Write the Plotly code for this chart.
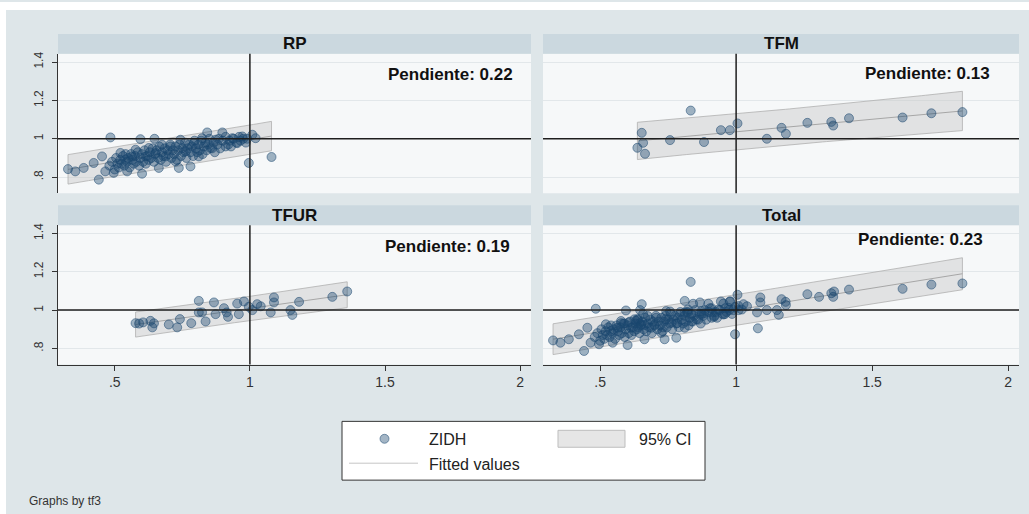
import numpy as np
import plotly.graph_objects as go

W, H = 1029, 514

# ---------------- data ----------------
rp_x = [0.327, 0.354, 0.385, 0.422, 0.441, 0.484, 0.453, 0.465, 0.496, 0.521, 0.540, 0.546,
        0.564, 0.577, 0.595, 0.601, 0.614, 0.626, 0.647, 0.651, 0.663, 0.675, 0.688, 0.706,
        0.725, 0.737, 0.743, 0.762, 0.780, 0.793, 0.811, 0.823, 0.842, 0.854, 0.873, 0.898,
        0.910, 0.935, 0.953, 0.972, 0.996, 1.009, 1.021, 1.080,
        0.480, 0.490, 0.500, 0.505, 0.510, 0.515, 0.520, 0.525, 0.530, 0.535, 0.540, 0.545, 0.550,
        0.555, 0.560, 0.565, 0.570, 0.575, 0.580, 0.585, 0.590, 0.595, 0.600, 0.605, 0.610,
        0.615, 0.620, 0.625, 0.630, 0.635, 0.640, 0.645, 0.650,
        0.655, 0.660, 0.665, 0.670, 0.675, 0.680, 0.685, 0.690, 0.695, 0.700, 0.705, 0.710,
        0.715, 0.720, 0.725, 0.730, 0.735, 0.740, 0.745, 0.750,
        0.755, 0.760, 0.765, 0.770, 0.775, 0.780, 0.785, 0.790, 0.795, 0.800, 0.805, 0.810,
        0.815, 0.820, 0.825, 0.830, 0.835, 0.840, 0.845, 0.850,
        0.860, 0.865, 0.870, 0.880, 0.885, 0.890, 0.900, 0.910, 0.920, 0.925, 0.930, 0.940,
        0.950, 0.960, 0.965, 0.975, 0.985, 0.990]
rp_y = [0.842, 0.830, 0.848, 0.874, 0.787, 1.007, 0.908, 0.830, 0.822, 0.926, 0.891, 0.830,
        0.908, 0.943, 0.998, 0.818, 0.908, 0.952, 1.000, 0.926, 0.848, 0.969, 0.908, 0.960,
        0.882, 0.848, 0.995, 0.934, 0.856, 0.977, 0.908, 1.003, 1.033, 0.952, 0.995, 1.033,
        0.960, 1.003, 0.977, 1.012, 0.874, 1.021, 1.003, 0.905,
        0.860, 0.880, 0.840, 0.900, 0.870, 0.850, 0.890, 0.870, 0.910, 0.860, 0.920, 0.880, 0.900,
        0.850, 0.920, 0.890, 0.870, 0.910, 0.880, 0.930, 0.860, 0.900, 0.920, 0.880, 0.940,
        0.870, 0.910, 0.890, 0.930, 0.900, 0.950, 0.880, 0.920,
        0.940, 0.900, 0.960, 0.890, 0.930, 0.910, 0.950, 0.880, 0.940, 0.920, 0.970, 0.900,
        0.940, 0.920, 0.960, 0.890, 0.940, 0.970, 0.910, 0.950,
        0.930, 0.980, 0.900, 0.950, 0.970, 0.930, 0.960, 0.910, 0.990, 0.950, 0.930, 0.970,
        0.940, 0.990, 0.920, 0.960, 0.980, 0.940, 0.970, 1.000,
        0.950, 0.980, 0.930, 0.970, 1.000, 0.950, 0.990, 1.010, 0.970, 0.990, 0.960, 1.000,
        0.980, 1.010, 0.990, 1.000, 0.980, 1.000]

tfm_x = [0.637, 0.653, 0.658, 0.665, 0.757, 0.833, 0.882, 0.944, 0.977, 1.005,
         1.113, 1.167, 1.183, 1.262, 1.350, 1.357, 1.415, 1.612, 1.718, 1.832]
tfm_y = [0.953, 1.031, 0.979, 0.922, 0.993, 1.147, 0.983, 1.045, 1.045, 1.080,
         1.000, 1.057, 1.026, 1.083, 1.088, 1.069, 1.107, 1.111, 1.133, 1.139]

tfur_x = [0.577, 0.590, 0.605, 0.632, 0.645, 0.639, 0.700, 0.731, 0.741, 0.783, 0.811, 0.811,
          0.823, 0.836, 0.867, 0.873, 0.904, 0.914, 0.919, 0.953, 0.959, 0.978, 0.996, 1.009,
          1.027, 1.040, 1.077, 1.089, 1.089, 1.150, 1.157, 1.182, 1.305, 1.360]
tfur_y = [0.932, 0.930, 0.936, 0.944, 0.931, 0.910, 0.925, 0.910, 0.953, 0.932, 1.048, 0.988,
          0.988, 0.941, 1.040, 0.979, 1.010, 0.988, 0.965, 1.034, 0.979, 1.045, 1.017, 1.000,
          1.031, 1.020, 0.988, 1.066, 1.040, 1.000, 0.975, 1.043, 1.069, 1.097]

panel_names = ["RP", "TFM", "TFUR", "Total"]
slope_labels = ["Pendiente: 0.22", "Pendiente: 0.13", "Pendiente: 0.19", "Pendiente: 0.23"]
x_tickvals = [0.5, 1.0, 1.5, 2.0]
x_ticktext = [".5", "1", "1.5", "2"]
y_tickvals = [0.8, 1.0, 1.2, 1.4]
y_ticktext = [".8", "1", "1.2", "1.4"]
legend_labels = ["ZIDH", "95% CI", "Fitted values"]
footnote = "Graphs by tf3"

panel_data = [
    (rp_x, rp_y),
    (tfm_x, tfm_y),
    (tfur_x, tfur_y),
    (rp_x + tfm_x + tfur_x, rp_y + tfm_y + tfur_y),
]

# ---------------- styling ----------------
FONT = "Liberation Sans, Arial, sans-serif"
OUTER_BG = "#dee6e9"
STRIP_BG = "#cbd8df"
PLOT_BG = "#f6f8f9"
GRID = "#e2e7ea"
AXIS = "#333333"
MARK_FILL = "rgba(26,71,111,0.40)"
MARK_LINE = "rgba(26,71,111,0.52)"
BAND_FILL = "rgba(200,200,200,0.45)"
BAND_LINE = "#b0b0b0"
FIT_LINE = "#a6a6a6"


def t975(df):
    z = 1.959964
    g1 = (z ** 3 + z) / 4
    g2 = (5 * z ** 5 + 16 * z ** 3 + 3 * z) / 96
    g3 = (3 * z ** 7 + 19 * z ** 5 + 17 * z ** 3 - 15 * z) / 384
    return z + g1 / df + g2 / df ** 2 + g3 / df ** 3


def fit_band(x, y, n_grid=80):
    x = np.asarray(x, float)
    y = np.asarray(y, float)
    n = len(x)
    b, a = np.polyfit(x, y, 1)
    resid = y - (a + b * x)
    s = np.sqrt(np.sum(resid ** 2) / (n - 2))
    xbar = x.mean()
    sxx = np.sum((x - xbar) ** 2)
    g = np.linspace(x.min(), x.max(), n_grid)
    yhat = a + b * g
    se = s * np.sqrt(1 + 1 / n + (g - xbar) ** 2 / sxx)
    t = t975(n - 2)
    return g, yhat, yhat - t * se, yhat + t * se


def px(v):
    return v / W


def py(v):
    return 1 - v / H


XL = [px(58), px(531)]
XR = [px(543), px(1019)]
YT = [py(192), py(52)]
YB = [py(364), py(224)]
domains = [(XL, YT), (XR, YT), (XL, YB), (XR, YB)]
XRANGE = [0.29, 2.04]
YRANGE = [0.716, 1.443]

fig = go.Figure()
shapes = []
annotations = []

for i, (name, (xs, ys)) in enumerate(zip(panel_names, panel_data)):
    k = "" if i == 0 else str(i + 1)
    xa, ya = "x" + k, "y" + k
    g, yhat, lo, hi = fit_band(xs, ys)
    bx = list(g) + list(g[::-1]) + [g[0]]
    by = list(hi) + list(lo[::-1]) + [hi[0]]
    fig.add_trace(go.Scatter(x=bx, y=by, mode="lines", fill="toself", fillcolor=BAND_FILL,
                             line=dict(color=BAND_LINE, width=0.8), xaxis=xa, yaxis=ya,
                             showlegend=False, hoverinfo="skip"))
    fig.add_trace(go.Scatter(x=g, y=yhat, mode="lines", line=dict(color=FIT_LINE, width=1),
                             xaxis=xa, yaxis=ya, showlegend=False, hoverinfo="skip"))
    fig.add_trace(go.Scatter(x=xs, y=ys, mode="markers",
                             marker=dict(size=9, color=MARK_FILL, line=dict(color=MARK_LINE, width=1)),
                             xaxis=xa, yaxis=ya, showlegend=False, name="ZIDH"))

    (xd, yd) = domains[i]
    left = i % 2 == 0
    bottom = i >= 2
    fig.layout["xaxis" + k] = dict(
        domain=xd, range=XRANGE, anchor=ya, showgrid=False, zeroline=False,
        showline=bottom, linecolor=AXIS, linewidth=1,
        ticks="outside" if bottom else "", ticklen=5, tickcolor=AXIS,
        tickvals=x_tickvals, ticktext=x_ticktext, showticklabels=bottom,
        tickfont=dict(family=FONT, size=14, color=AXIS), fixedrange=True)
    fig.layout["yaxis" + k] = dict(
        domain=yd, range=YRANGE, anchor=xa, showgrid=True, gridcolor=GRID, gridwidth=1,
        zeroline=False, showline=left, linecolor=AXIS, linewidth=1,
        ticks="outside" if left else "", ticklen=5, tickcolor=AXIS,
        tickvals=y_tickvals, ticktext=y_ticktext, showticklabels=left, tickangle=-90,
        ticklabelstandoff=4,
        tickfont=dict(family=FONT, size=12, color=AXIS), fixedrange=True)

    # reference lines at x=1 and y=1
    shapes.append(dict(type="line", xref=xa, yref=ya + " domain", x0=1, x1=1, y0=0, y1=1,
                       line=dict(color="#1e1e1e", width=1.5), layer="above"))
    shapes.append(dict(type="line", xref=xa + " domain", yref=ya, x0=0, x1=1, y0=1, y1=1,
                       line=dict(color="#1e1e1e", width=1.5), layer="above"))
    # strip title band
    shapes.append(dict(type="rect", xref="paper", yref="paper", x0=xd[0], x1=xd[1],
                       y0=yd[1], y1=yd[1] + 20 / H, fillcolor=STRIP_BG, line=dict(width=0),
                       layer="below"))
    annotations.append(dict(text="<b>%s</b>" % name, xref="paper", yref="paper",
                            x=(xd[0] + xd[1]) / 2, y=yd[1] + 10 / H, showarrow=False,
                            xanchor="center", yanchor="middle",
                            font=dict(family=FONT, size=17, color="#111")))

# slope labels
slope_pos = [(515, 72.5), (992, 72), (512, 245), (985, 238)]
for lab, (sx, sy) in zip(slope_labels, slope_pos):
    annotations.append(dict(text="<b>%s</b>" % lab, xref="paper", yref="paper",
                            x=px(sx), y=py(sy), showarrow=False, xanchor="right",
                            yanchor="middle", font=dict(family=FONT, size=17, color="#111")))

# white frame around the graph region
shapes.append(dict(type="rect", xref="paper", yref="paper", x0=0, x1=1, y0=py(8), y1=1,
                   fillcolor="white", line=dict(width=0), layer="above"))
shapes.append(dict(type="rect", xref="paper", yref="paper", x0=0, x1=px(6), y0=0, y1=1,
                   fillcolor="white", line=dict(width=0), layer="above"))

# legend (drawn as a key box)
shapes.append(dict(type="rect", xref="paper", yref="paper", x0=px(342), x1=px(705),
                   y0=py(480), y1=py(421), fillcolor="white",
                   line=dict(color="#333", width=1), layer="above"))
shapes.append(dict(type="circle", xref="paper", yref="paper", x0=px(380), x1=px(389),
                   y0=py(443), y1=py(434), fillcolor=MARK_FILL,
                   line=dict(color=MARK_LINE, width=1), layer="above"))
shapes.append(dict(type="rect", xref="paper", yref="paper", x0=px(558), x1=px(625),
                   y0=py(447), y1=py(430), fillcolor="#e6e6e6",
                   line=dict(color="#bdbdbd", width=1), layer="above"))
shapes.append(dict(type="line", xref="paper", yref="paper", x0=px(349), x1=px(418),
                   y0=py(463), y1=py(463), line=dict(color="#c6c6c6", width=1), layer="above"))
for lab, (lx, ly) in zip(legend_labels, [(427, 439), (637, 439), (427, 464)]):
    annotations.append(dict(text=lab, xref="paper", yref="paper", x=px(lx), y=py(ly),
                            showarrow=False, xanchor="left", yanchor="middle",
                            font=dict(family=FONT, size=16, color="#222")))

annotations.append(dict(text=footnote, xref="paper", yref="paper", x=px(27), y=py(501),
                        showarrow=False, xanchor="left", yanchor="middle",
                        font=dict(family=FONT, size=12, color="#333")))

fig.update_layout(
    width=W, height=H, margin=dict(l=0, r=0, t=0, b=0),
    paper_bgcolor=OUTER_BG, plot_bgcolor=PLOT_BG,
    shapes=shapes, annotations=annotations, showlegend=False,
    font=dict(family=FONT),
)

fig.write_html("out.html")
